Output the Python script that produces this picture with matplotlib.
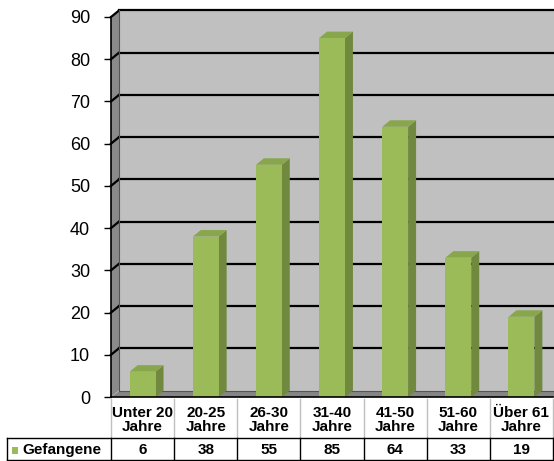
import matplotlib.pyplot as plt
from matplotlib.patches import Polygon, Rectangle
from matplotlib.transforms import blended_transform_factory

plt.rcParams['font.family'] = ['Liberation Sans', 'DejaVu Sans']

# Altersgruppen der Gefangenen
kategorien = ['Unter 20\nJahre', '20-25\nJahre', '26-30\nJahre', '31-40\nJahre',
              '41-50\nJahre', '51-60\nJahre', 'Über 61\nJahre']
gefangene = [6, 38, 55, 85, 64, 33, 19]
serie = 'Gefangene'
yticks = list(range(0, 100, 10))

W, H = 554, 461
fig = plt.figure(figsize=(W / 100, H / 100), dpi=100)
fig.patch.set_facecolor('white')
ax = fig.add_axes([111 / W, (H - 397) / H, 442 / W, 380 / H])
ax.set_facecolor('none')

n = len(gefangene)
xmin, xmax = -0.5, n - 0.5
ymax = yticks[-1]
ax.set_xlim(xmin, xmax)
ax.set_ylim(0, ymax)

# Tiefe der 3D-Darstellung in Datenkoordinaten
dx = 8 / (442 / n)
dy = 6.5 / (380 / ymax)

# Rueckwand, Seitenwand, Boden
ax.add_patch(Polygon([(xmin + dx, dy), (xmax + 1, dy), (xmax + 1, ymax + dy), (xmin + dx, ymax + dy)],
                     closed=True, fc='#C0C0C0', ec='none', zorder=1, clip_on=False))
ax.add_patch(Polygon([(xmin, 0), (xmin + dx, dy), (xmin + dx, ymax + dy), (xmin, ymax)],
                     closed=True, fc='#8A8A8A', ec='none', zorder=1, clip_on=False))
ax.add_patch(Polygon([(xmin, 0), (xmax + 1, 0), (xmax + 1, dy), (xmin + dx, dy)],
                     closed=True, fc='#858585', ec='none', zorder=1, clip_on=False))

# Gitternetzlinien auf Rueck- und Seitenwand
for v in yticks[1:]:
    ax.plot([xmin + dx, xmax + 1], [v + dy, v + dy], color='black', lw=1.6, zorder=2, clip_on=False)
    ax.plot([xmin, xmin + dx], [v, v + dy], color='black', lw=1.6, zorder=2, clip_on=False)
ax.plot([xmin + dx, xmin + dx], [dy, ymax + dy], color='#555555', lw=0.8, zorder=2, clip_on=False)
ax.plot([xmin + dx, xmax + 1], [dy, dy], color='#555555', lw=0.8, zorder=2, clip_on=False)

# Saeulen mit Seiten- und Deckflaeche
breite = 0.41
x = list(range(n))
ax.bar(x, gefangene, width=breite, color='#9BBB59', zorder=4, clip_on=False)
for xi, v in zip(x, gefangene):
    xl, xr = xi - breite / 2, xi + breite / 2
    ax.add_patch(Polygon([(xr, 0), (xr + dx, dy), (xr + dx, v + dy), (xr, v)],
                         closed=True, fc='#71893F', ec='none', zorder=3, clip_on=False))
    ax.add_patch(Polygon([(xl, v), (xr, v), (xr + dx, v + dy), (xl + dx, v + dy)],
                         closed=True, fc='#88A64C', ec='none', zorder=3, clip_on=False))

for s in ['top', 'right']:
    ax.spines[s].set_visible(False)
ax.spines['left'].set_linewidth(1.2)
ax.spines['bottom'].set_linewidth(1.2)
ax.spines['left'].set_zorder(5)
ax.spines['bottom'].set_zorder(5)
ax.set_xticks([])
ax.set_yticks(yticks)
ax.tick_params(axis='y', length=5, width=1, pad=10, labelsize=13)

# Datentabelle unter dem Diagramm
def fy(py):
    return 1 - py / H

tr = blended_transform_factory(ax.transData, fig.transFigure)
for xi, lab in zip(x, kategorien):
    fig.text(xi, fy(420), lab, transform=tr, ha='center', va='center',
             fontsize=11, fontweight='bold', linespacing=1.05)
for xi, v in zip(x, gefangene):
    fig.text(xi, fy(450), str(v), transform=tr, ha='center', va='center',
             fontsize=11, fontweight='bold')

grenzen = [xmin + i for i in range(n + 1)]
for g in grenzen:
    fig.add_artist(plt.Line2D([g, g], [fy(399), fy(438)], transform=tr, color='#BFBFBF', lw=1))
    fig.add_artist(plt.Line2D([g, g], [fy(438), fy(460)], transform=tr, color='black', lw=1))

fig.add_artist(plt.Line2D([7 / W, 1], [fy(438), fy(438)], color='black', lw=1))
fig.add_artist(plt.Line2D([7 / W, 1], [fy(460), fy(460)], color='black', lw=1))
fig.add_artist(plt.Line2D([7 / W, 7 / W], [fy(438), fy(460)], color='black', lw=1))

fig.add_artist(Rectangle((12 / W, fy(454)), 6 / W, 7 / H, transform=fig.transFigure,
                         fc='#9BBB59', ec='none'))
fig.text(22 / W, fy(450), serie, ha='left', va='center', fontsize=11, fontweight='bold')

fig.savefig('out.png', dpi=100)
